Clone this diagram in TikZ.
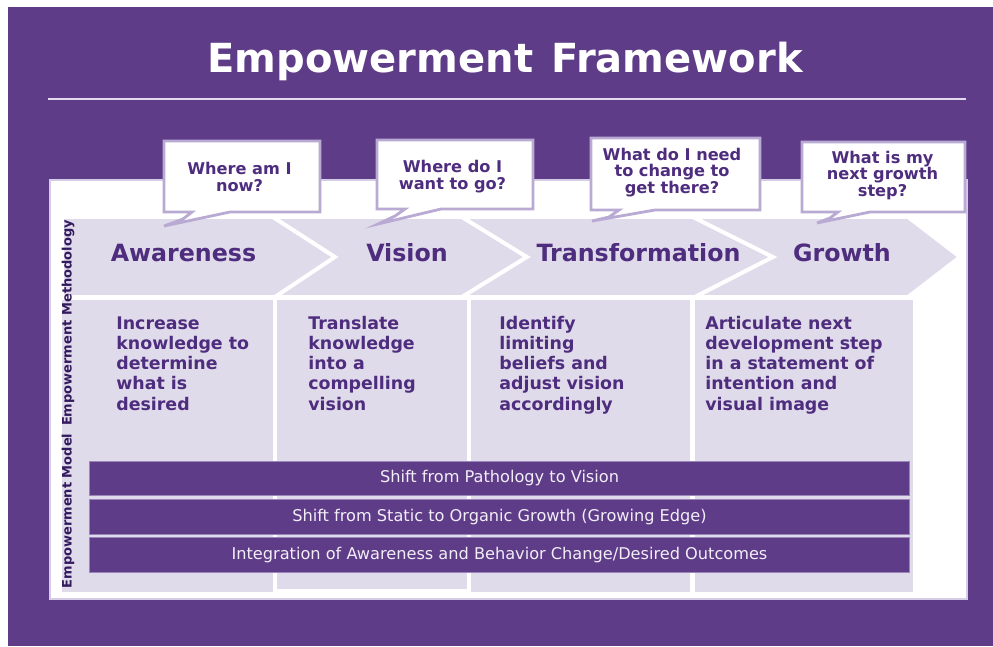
\documentclass[tikz,border=0pt]{standalone}
\usepackage{fontspec}
\setmainfont{DejaVu Sans}

\definecolor{framepurple}{HTML}{5E3C87}
\definecolor{lavender}{HTML}{E0DBEA}
\definecolor{inkpurple}{HTML}{4E2C7E}
\definecolor{sidepurple}{HTML}{33195E}
\definecolor{bubbleline}{HTML}{B9AAD3}
\definecolor{barline}{HTML}{9A86BA}
\definecolor{bartext}{HTML}{F2EEF7}
\definecolor{rulelight}{HTML}{E2DAEE}

\tikzset{
  chevron/.style={fill=lavender, draw=white, line width=2.2pt, line join=miter},
  column/.style={fill=lavender},
  bubble/.style={fill=white, draw=bubbleline, line width=1.6pt, line join=miter},
  bar/.style={fill=framepurple, draw=barline, line width=0.5pt, minimum width=16.42cm,
    minimum height=0.69cm, inner sep=0pt, text=bartext, font=\fontsize{9.2}{11}\selectfont},
  steplabel/.style={text=inkpurple, font=\fontsize{13.5}{16}\selectfont\bfseries, anchor=base, inner sep=0pt},
  % multi-line nodes sit on the baseline of their last line
  question/.style={text=inkpurple, align=center, font=\fontsize{9.2}{9.3}\selectfont\bfseries, anchor=base, inner sep=0pt},
  colnote/.style={text=inkpurple, align=left, font=\fontsize{9.9}{11.4}\selectfont\bfseries, anchor=base west, inner sep=0pt},
  sidelabel/.style={text=sidepurple, rotate=90, font=\fontsize{7.4}{9}\selectfont\bfseries, inner sep=0pt},
}

\begin{document}
\begin{tikzpicture}[x=0.02cm, y=-0.02cm]
  \useasboundingbox (0,0) rectangle (993,646);
  \fill[white] (0,0) rectangle (993,646);
  \fill[framepurple] (8,7) rectangle (993,646);

  % --- Title ---
  \node[text=white, font=\fontsize{22.8}{27}\selectfont\bfseries, anchor=base, inner sep=0pt] (title)
    at (505,72) {Empowerment\hspace{0.45em}Framework};
  \draw[rulelight, line width=1.2pt] (48,99) -- (966,99);

  % --- White panel ---
  \filldraw[fill=white, draw=bubbleline!60, line width=0.6pt] (50,180) rectangle (967,599);

  % --- Lower columns ---
  \fill[column] (62,300) rectangle (273,592);
  \fill[column] (277,300) rectangle (467,589);
  \fill[column] (471,300) rectangle (690,592);
  \fill[column] (695,300) rectangle (913,592);

  % --- Chevron row ---
  \draw[chevron] (62,217) -- (273,217) -- (335,257) -- (275,297) -- (62,297) -- cycle;
  \draw[chevron] (273,217) -- (462,217) -- (527,257) -- (462,297) -- (275,297) -- (335,257) -- cycle;
  \draw[chevron] (462,217) -- (693,217) -- (773,257) -- (695,297) -- (462,297) -- (527,257) -- cycle;
  \draw[chevron] (693,217) -- (908,217) -- (960,257) -- (908,297) -- (695,297) -- (773,257) -- cycle;

  \node[steplabel] (awareness) at (183.5,261) {Awareness};
  \node[steplabel] (vision) at (407,261) {Vision};
  \node[steplabel] (transformation) at (638.5,261) {Transformation};
  \node[steplabel] (growth) at (842,261) {Growth};

  % --- Speech bubbles ---
  \draw[bubble] (164,141) -- (320,141) -- (320,212) -- (230,212) -- (164,226) -- (183,219) -- (192,212) -- (164,212) -- cycle;
  \draw[bubble] (377,140) -- (533,140) -- (533,209) -- (441,209) -- (378,224) -- (395,216) -- (405,209) -- (377,209) -- cycle;
  \draw[bubble] (591,138) -- (760,138) -- (760,210) -- (655,210) -- (592,221) -- (609,217) -- (619,210) -- (591,210) -- cycle;
  \draw[bubble] (802,142) -- (965,142) -- (965,212) -- (870,212) -- (817,223) -- (830,218) -- (838,212) -- (802,212) -- cycle;

  \node[question] (qnow) at (239.5,191) {Where am I\\now?};
  \node[question] (qgo) at (452.5,189) {Where do I\\want to go?};
  \node[question] (qchange) at (672,193) {What do I need\\to change to\\get there?};
  \node[question] (qnext) at (882.5,196) {What is my\\next growth\\step?};

  % --- Column notes ---
  \node[colnote] (note1) at (116,410) {Increase\\knowledge to\\determine\\what is\\desired};
  \node[colnote] (note2) at (308,410) {Translate\\knowledge\\into a\\compelling\\vision};
  \node[colnote] (note3) at (499,410) {Identify\\limiting\\beliefs and\\adjust vision\\accordingly};
  \node[colnote] (note4) at (705,410) {Articulate next\\development step\\in a statement of\\intention and\\visual image};

  % --- Model bars ---
  \node[bar] (shift1) at (499.5,478.5) {Shift from Pathology to Vision};
  \node[bar] (shift2) at (499.5,517) {Shift from Static to Organic Growth (Growing Edge)};
  \node[bar] (integration) at (499.5,555) {Integration of Awareness and Behavior Change/Desired Outcomes};

  % --- Side labels ---
  \node[sidelabel] (methodology) at (68,323) {Empowerment Methodology};
  \node[sidelabel] (model) at (68,511) {Empowerment Model};
\end{tikzpicture}
\end{document}
